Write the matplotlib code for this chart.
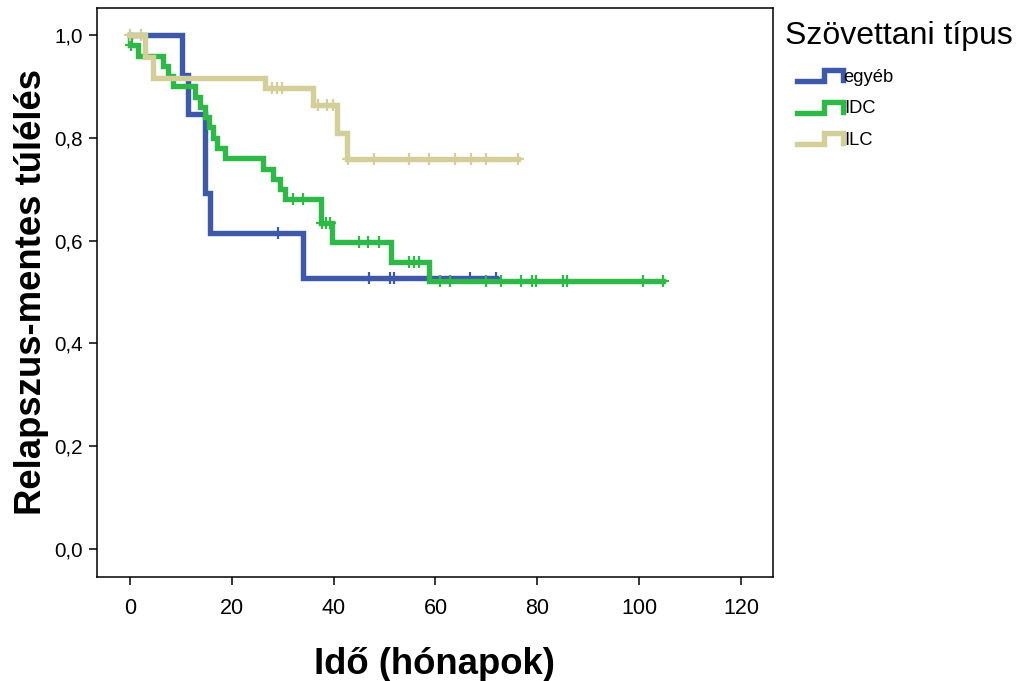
import numpy as np
import matplotlib
matplotlib.use("Agg")
import matplotlib.pyplot as plt
from matplotlib.lines import Line2D
from matplotlib.legend_handler import HandlerBase

# ── Data ──────────────────────────────────────────────────────────────────────
groups = ["egyéb", "IDC", "ILC"]

egyeb_times = [10.2, 11.3, 14.8, 15.8, 34.0]
egyeb_surv = [0.923, 0.846, 0.692, 0.615, 0.527]
egyeb_cens = [29.0, 47.0, 51.1, 51.9, 66.8, 71.9]

idc_times = [0.0, 1.6, 6.5, 7.5, 8.5, 12.8, 13.8, 14.8, 15.5, 16.3, 17.0, 18.7,
             26.2, 28.0, 29.5, 30.5, 37.5, 39.6, 51.3, 58.8]
idc_surv = [0.98, 0.96, 0.94, 0.92, 0.90, 0.88, 0.86, 0.84, 0.82, 0.80, 0.78, 0.76,
            0.74, 0.72, 0.70, 0.68, 0.634, 0.597, 0.558, 0.522]
idc_cens = [0.2, 32.0, 34.0, 37.8, 38.5, 39.2, 45.0, 46.8, 49.0, 54.8, 55.8, 56.8,
            60.9, 62.9, 69.9, 72.8, 76.9, 78.9, 79.8, 85.0, 85.8, 100.8, 104.7]

ilc_times = [3.0, 4.6, 26.5, 36.0, 40.7, 42.6]
ilc_surv = [0.958, 0.917, 0.897, 0.864, 0.81, 0.759]
ilc_cens = [0.0, 2.1, 27.9, 28.9, 29.9, 37.0, 38.7, 39.9, 42.8, 47.9, 54.8, 58.7,
            63.8, 67.0, 69.9, 76.2]

colors = ["#3E58AA", "#2EB848", "#D4CE98"]

plt.rcParams.update({
    "font.family": ["Liberation Sans", "DejaVu Sans"],
})

fig = plt.figure(figsize=(10.18, 6.81), dpi=100)
ax = fig.add_axes([0.0953, 0.1527, 0.664, 0.8356])

series = [
    (egyeb_times, egyeb_surv, egyeb_cens),
    (idc_times, idc_surv, idc_cens),
    (ilc_times, ilc_surv, ilc_cens),
]

handles = []
for (times, surv, cens), col, name in zip(series, colors, groups):
    end = max(cens)
    xs = np.array([0.0] + times + [end])
    ys = np.array([1.0] + surv + [surv[-1]])
    ln, = ax.step(xs, ys, where="post", color=col, lw=3.9,
                  solid_joinstyle="miter", label=name)
    # censored cases as "+" marks on the curve
    idx = np.searchsorted(xs, cens, side="right") - 1
    ax.plot(cens, ys[idx], ls="none", marker="+", ms=9, mew=1.6, color=col)
    handles.append(ln)

ax.set_xlim(-6.48, 126.3)
ax.set_ylim(-0.0545, 1.0525)
ax.set_xticks(np.arange(0, 121, 20))
ax.set_yticks(np.arange(0, 1.01, 0.2))
ax.set_yticklabels([f"{v:.1f}".replace(".", ",") for v in np.arange(0, 1.01, 0.2)])
ax.tick_params(direction="out", length=6, width=1.1)
ax.tick_params(axis="y", labelsize=14.8, pad=4)
ax.tick_params(axis="x", labelsize=15.5, pad=9)
for sp in ax.spines.values():
    sp.set_linewidth(1.1)

ax.set_xlabel("Idő (hónapok)", fontsize=26.3, fontweight="bold", labelpad=20)
ax.set_ylabel("Relapszus-mentes túlélés", fontsize=26.3, fontweight="bold", labelpad=4)


class StepHandler(HandlerBase):
    def create_artists(self, legend, orig_handle, xdescent, ydescent,
                       width, height, fontsize, trans):
        xs = np.array([0, 0.58, 0.58, 1.0, 1.0]) * width - xdescent
        ys = np.array([0.05, 0.05, 0.9, 0.9, 0.12]) * height - ydescent
        ln = Line2D(xs, ys, color=orig_handle.get_color(), lw=3.9,
                    solid_joinstyle="miter")
        ln.set_transform(trans)
        return [ln]


fig.text(785 / 1018, 1 - 36 / 681, "Szövettani típus", fontsize=23,
         ha="left", va="center")
leg = fig.legend(handles, groups, loc="upper left",
                 bbox_to_anchor=(797 / 1018, 1 - 69 / 681),
                 frameon=False, fontsize=13.2, borderpad=0, borderaxespad=0,
                 handlelength=2.5, handletextpad=0.05, labelspacing=0.78,
                 handler_map={Line2D: StepHandler()})

fig.savefig("out.png", dpi=100)
